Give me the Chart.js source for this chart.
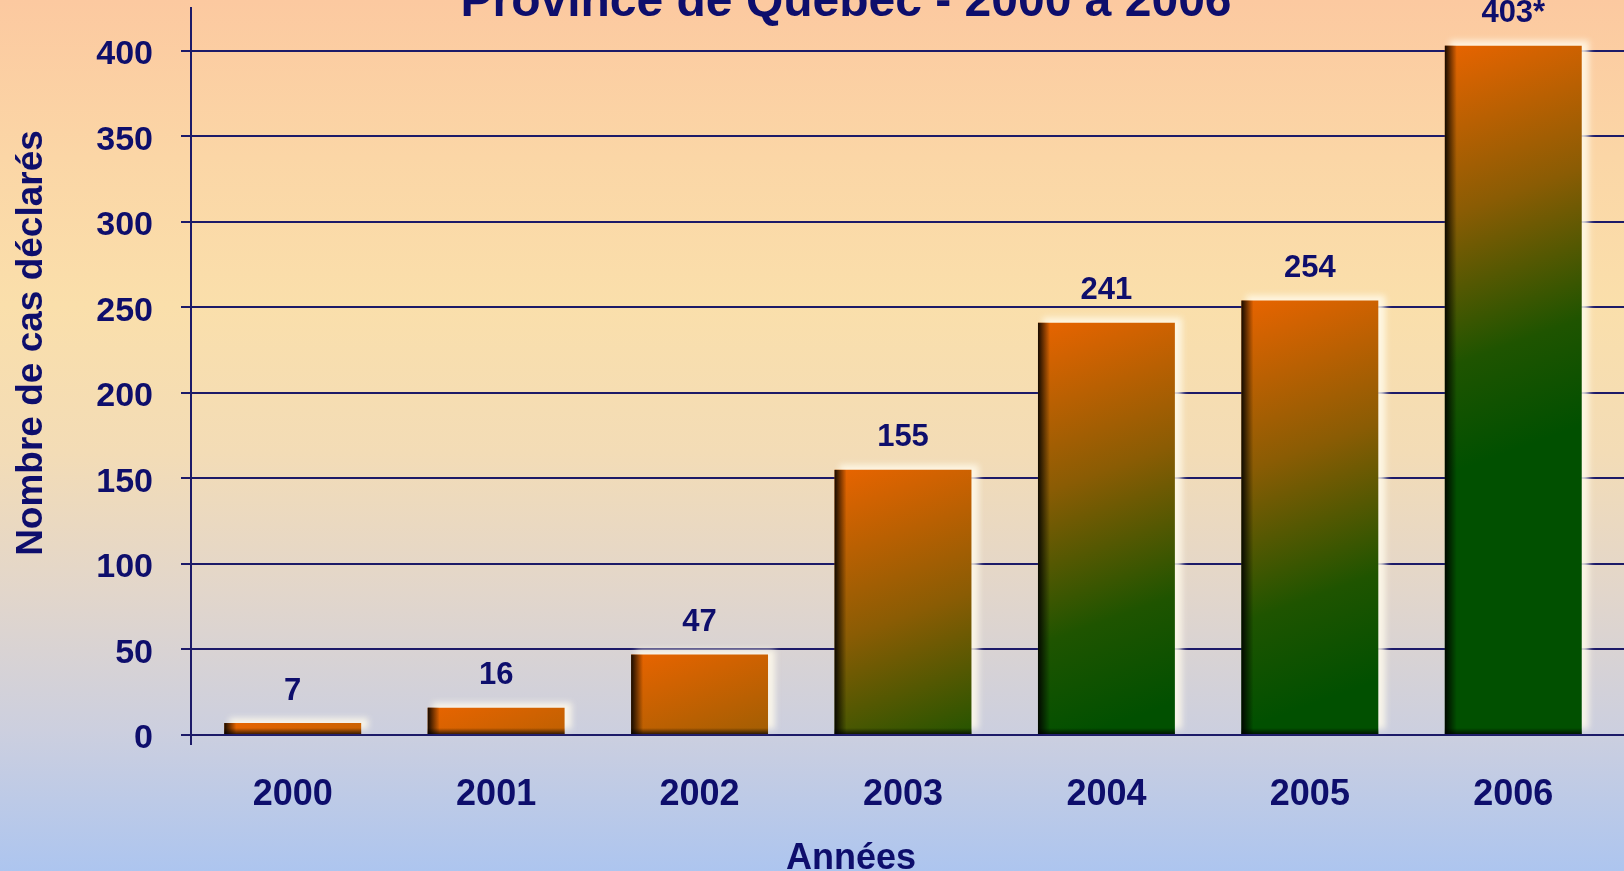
<!DOCTYPE html>
<html lang="fr">
<head>
<meta charset="utf-8">
<title>Nombre de cas déclarés - Province de Québec - 2000 à 2006</title>
<script src="https://cdn.jsdelivr.net/npm/chart.js@4/dist/chart.umd.min.js"></script>
<style>
  html, body { margin: 0; padding: 0; width: 1624px; height: 871px; overflow: hidden; }
  body {
    background: linear-gradient(to bottom,
      #fcc9a0 0%, #fbd6a6 18%, #fadfab 35%, #f3dcb6 52%,
      #e2d6cb 68%, #cccfdf 84%, #adc5ef 100%);
  }
  #wrap { position: absolute; left: 0; top: 0; width: 1624px; height: 871px; }
</style>
</head>
<body>
<div id="wrap"><canvas id="casChart"></canvas></div>
<script>
// données
const years = ['2000', '2001', '2002', '2003', '2004', '2005', '2006'];
const cases = [7, 16, 47, 155, 241, 254, 403];
const caseNotes = ['', '', '', '', '', '', '*'];
const yTickValues = [0, 50, 100, 150, 200, 250, 300, 350, 400];
const yMax = 425;

const chartTitle = 'Province de Québec - 2000 à 2006';
const yTitle = 'Nombre de cas déclarés';
const xTitle = 'Années';

const NAVY = '#0e0e6c';
const GRID = '#1c1a68';
const FONT = '"Liberation Sans", Arial, sans-serif';

// orange en haut, vert foncé vers le bas
function barFill(c) {
  const chart = c.chart;
  const area = chart.chartArea;
  if (!area || c.type !== 'data') return '#e06000';
  const xs = chart.scales.x, ys = chart.scales.y;
  const bw = (area.right - area.left) / years.length * 0.673;
  const left = xs.getPixelForValue(c.dataIndex) - bw / 2;
  const top = ys.getPixelForValue(c.raw);
  const g = chart.ctx.createLinearGradient(left, top, left + bw, top + 380);
  g.addColorStop(0, '#e86400');
  g.addColorStop(0.4, '#8a5c04');
  g.addColorStop(0.75, '#1f5400');
  g.addColorStop(1, '#015000');
  return g;
}

// textes, relief des barres, prolongement de la grille
const decor = {
  id: 'decor',
  beforeDatasetsDraw(chart) {
    const ctx = chart.ctx;
    const {right} = chart.chartArea;
    const ys = chart.scales.y;
    ctx.save();
    ctx.strokeStyle = GRID;
    ctx.lineWidth = 2;
    ys.ticks.forEach(t => {
      const py = Math.round(ys.getPixelForValue(t.value));
      ctx.beginPath();
      ctx.moveTo(right, py);
      ctx.lineTo(chart.width, py);
      ctx.stroke();
    });
    // halo clair
    ctx.filter = 'blur(3px)';
    ctx.fillStyle = 'rgba(255,250,235,0.85)';
    chart.getDatasetMeta(0).data.forEach(bar => {
      const {x, y, base, width} = bar.getProps(['x', 'y', 'base', 'width'], true);
      ctx.fillRect(x - width / 2 + 5, y - 5, width + 2, base - y);
    });
    ctx.restore();
  },
  afterDatasetsDraw(chart) {
    const ctx = chart.ctx;
    ctx.save();
    chart.getDatasetMeta(0).data.forEach((bar, i) => {
      const {x, y, base, width} = bar.getProps(['x', 'y', 'base', 'width'], true);
      const left = x - width / 2;
      const sh = ctx.createLinearGradient(left, 0, left + 12, 0);
      sh.addColorStop(0, 'rgba(0,0,0,0.9)');
      sh.addColorStop(0.4, 'rgba(0,0,0,0.55)');
      sh.addColorStop(1, 'rgba(0,0,0,0)');
      ctx.fillStyle = sh;
      ctx.fillRect(left, y, 12, base - y);
      const bt = ctx.createLinearGradient(0, base - 6, 0, base);
      bt.addColorStop(0, 'rgba(0,0,0,0)');
      bt.addColorStop(1, 'rgba(0,0,0,0.7)');
      ctx.fillStyle = bt;
      ctx.fillRect(left, base - 6, width, 6);

      ctx.fillStyle = NAVY;
      ctx.font = 'bold 31px ' + FONT;
      ctx.textAlign = 'center';
      ctx.textBaseline = 'middle';
      ctx.fillText(cases[i] + caseNotes[i], x, y - 32);
    });
    ctx.restore();
  },
  afterDraw(chart) {
    const ctx = chart.ctx;
    ctx.save();
    ctx.fillStyle = NAVY;
    ctx.textAlign = 'center';
    ctx.textBaseline = 'alphabetic';
    ctx.font = 'bold 48px ' + FONT;
    ctx.fillText(chartTitle, 846, 16);
    ctx.font = 'bold 36px ' + FONT;
    ctx.fillText(xTitle, 851, 869);
    ctx.translate(42, 343);
    ctx.rotate(-Math.PI / 2);
    ctx.font = 'bold 37px ' + FONT;
    ctx.fillText(yTitle, 0, 0);
    ctx.restore();
  }
};

new Chart(document.getElementById('casChart').getContext('2d'), {
  type: 'bar',
  data: {
    labels: years,
    datasets: [{
      data: cases,
      backgroundColor: barFill,
      borderWidth: 0,
      barPercentage: 0.673,
      categoryPercentage: 1
    }]
  },
  options: {
    responsive: true,
    maintainAspectRatio: false,
    animation: false,
    layout: { padding: { top: 8, right: 9, left: 0, bottom: 0 } },
    plugins: {
      legend: { display: false },
      tooltip: { enabled: false },
      title: { display: false }
    },
    scales: {
      x: {
        afterFit: s => { s.height = 136; s.paddingLeft = 0; s.paddingRight = 0; },
        grid: {
          drawOnChartArea: false,
          drawTicks: true,
          tickLength: 10,
          lineWidth: 2,
          color: c => c.index === 0 ? GRID : 'rgba(0,0,0,0)'
        },
        border: { display: false },
        ticks: {
          color: NAVY,
          padding: 28,
          font: { family: FONT, size: 36, weight: 'bold' }
        }
      },
      y: {
        min: 0,
        max: yMax,
        afterFit: s => { s.width = 191; s.paddingTop = 0; s.paddingBottom = 0; },
        afterBuildTicks: s => { s.ticks = yTickValues.map(v => ({ value: v })); },
        grid: {
          color: GRID,
          lineWidth: 2,
          drawTicks: true,
          tickLength: 10
        },
        border: { display: true, color: GRID, width: 2 },
        ticks: {
          color: NAVY,
          padding: 28,
          labelOffset: 4,
          font: { family: FONT, size: 34, weight: 'bold' }
        }
      }
    }
  },
  plugins: [decor]
});
</script>
</body>
</html>
